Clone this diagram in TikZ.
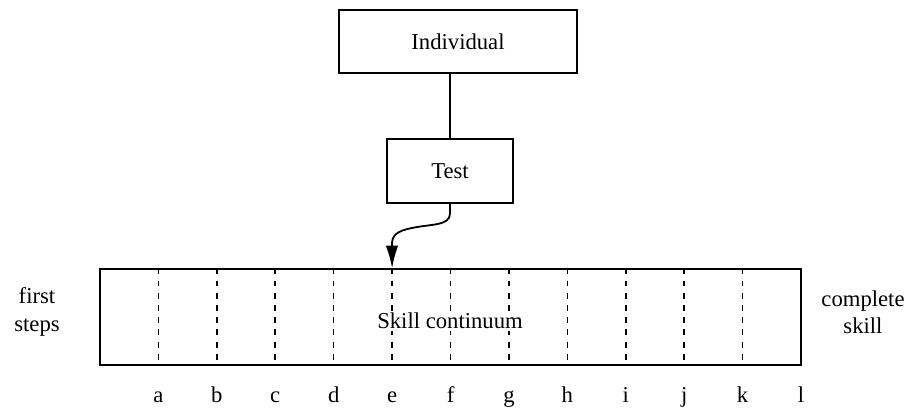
\documentclass[tikz,border=0pt]{standalone}
\usepackage{fontspec}
\setmainfont{Liberation Serif}
\usetikzlibrary{arrows.meta}
\begin{document}
\begin{tikzpicture}[x=0.0155cm,y=-0.0155cm,
    box/.style={draw,semithick,inner sep=0pt},
    divider/.style={line width=0.7pt,dash pattern=on 2.6pt off 2.8pt},
    side/.style={align=center,inner sep=0pt}]
  \useasboundingbox (0,0) rectangle (909,407);
  % boxes
  \node[box,minimum width=3.69cm,minimum height=0.98cm] (individual) at (458,41.5) {Individual};
  \node[box,minimum width=1.95cm,minimum height=0.99cm] (test) at (450,171) {Test};
  \node[box,minimum width=10.87cm,minimum height=1.49cm] (cont) at (450.5,317) {};
  \node[side] (first) at (37,312) {first\\steps};
  \node[side] (complete) at (863,312) {complete\\skill};
  % steps along the continuum
  \foreach \lbl [count=\i] in {a,b,c,d,e,f,g,h,i,j,k,l} {
    \node[anchor=base] (n\lbl) at (100+58.42*\i,402) {\lbl};
    \ifnum\i<12
      \draw[divider] (cont.north -| n\lbl) -- (cont.south -| n\lbl);
    \fi
  }
  \node[fill=white,inner sep=1pt] (skill) at (450,321) {Skill continuum};
  % connectors
  \draw[semithick] (test.north) -- (test.north |- individual.south);
  \draw[thick,-{Latex[length=10pt,width=5.5pt]}] (test.south) -- ++(0,10)
    .. controls (450,226) and (430,224) .. (412,228)
    .. controls (396,231) and (392,236) .. (392,244)
    -- (cont.north -| ne);
\end{tikzpicture}
\end{document}
